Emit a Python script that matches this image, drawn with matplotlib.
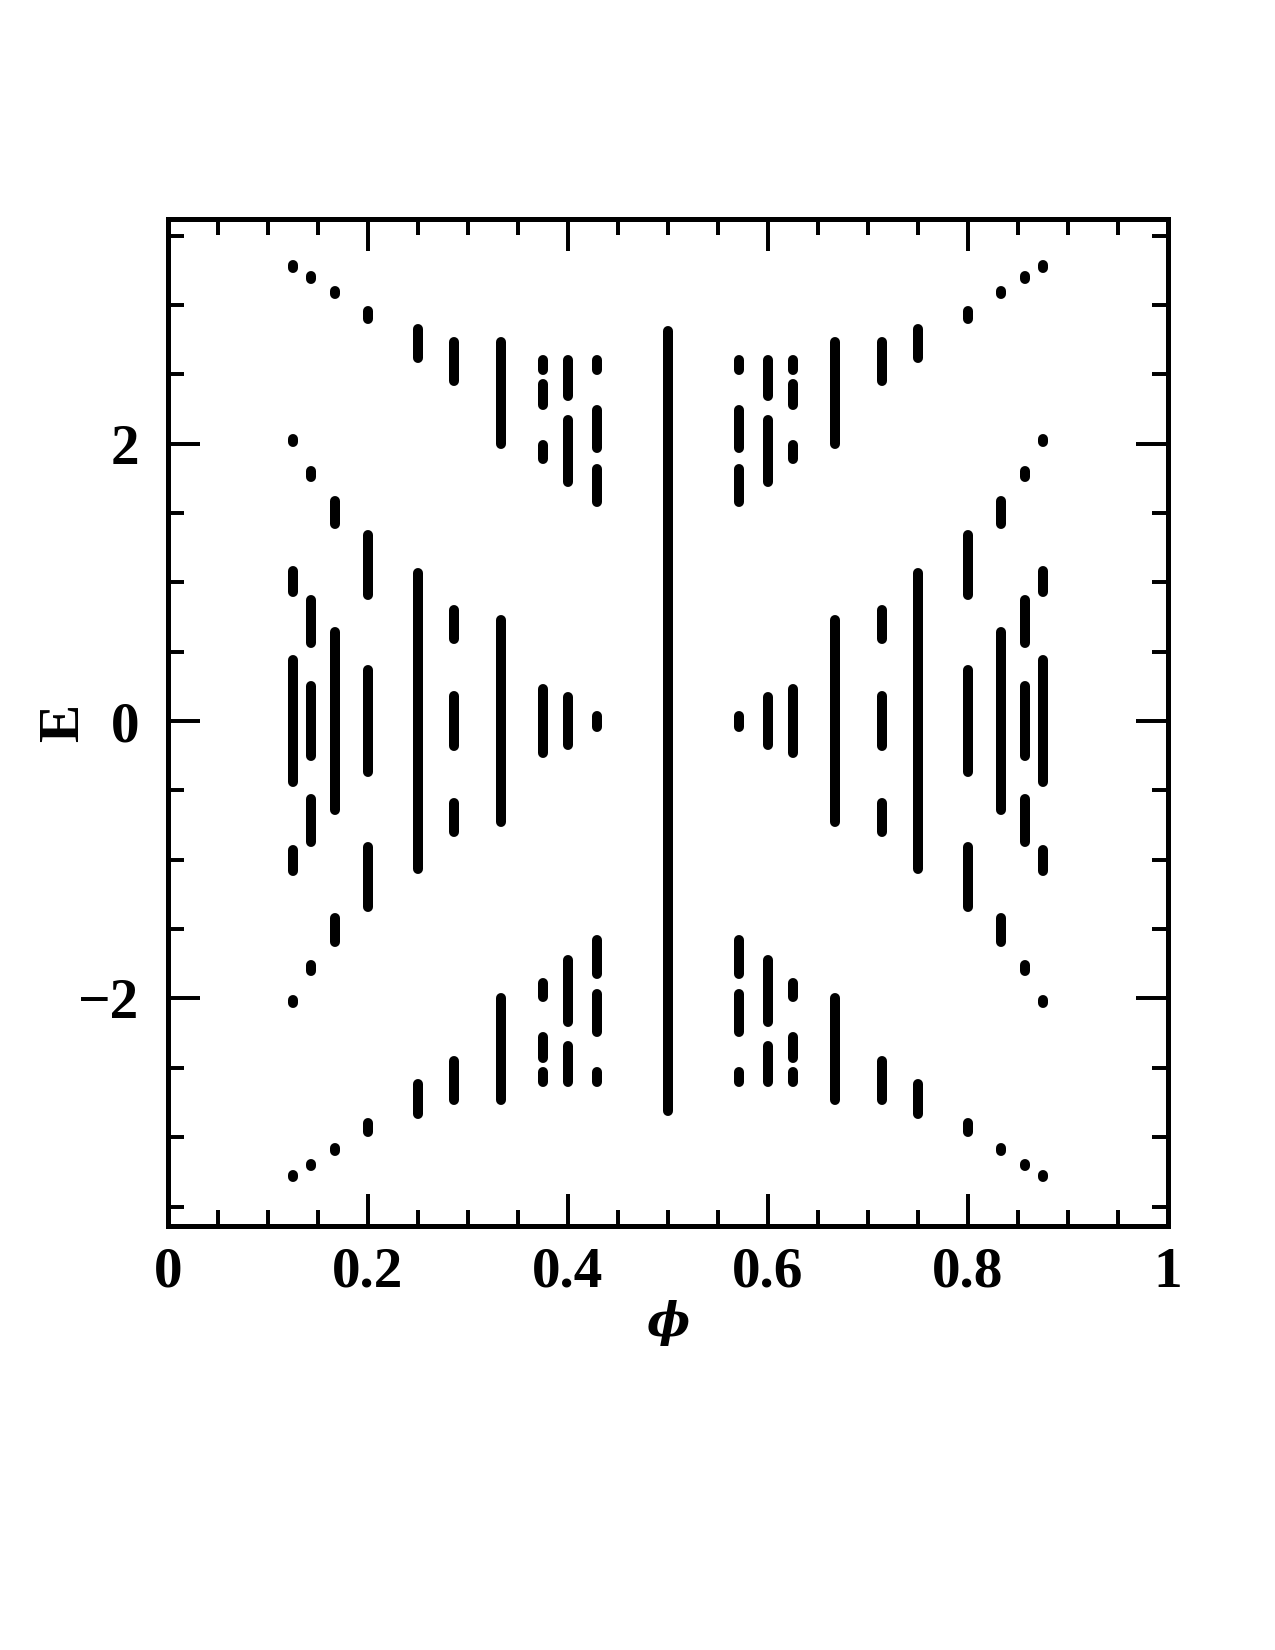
import matplotlib
matplotlib.use("Agg")
import matplotlib.pyplot as plt
from matplotlib.ticker import MultipleLocator

# flux values phi = p/q (q <= 8)
PHI = [0.125, 0.143, 0.167, 0.2, 0.25, 0.286, 0.333, 0.375, 0.4, 0.429, 0.5,
       0.571, 0.6, 0.625, 0.667, 0.714, 0.75, 0.8, 0.833, 0.857, 0.875]

# energy bands (lower, upper) at each phi
BANDS_0125 = [(-3.29, -3.27), (-2.03, -2.01), (-1.08, -0.93), (-0.44, 0.44),
              (0.93, 1.08), (2.01, 2.03), (3.27, 3.29)]
BANDS_0143 = [(-3.21, -3.19), (-1.80, -1.76), (-0.87, -0.56), (-0.25, 0.25),
              (0.56, 0.87), (1.76, 1.80), (3.19, 3.21)]
BANDS_0167 = [(-3.10, -3.08), (-1.59, -1.42), (-0.64, 0.64), (1.42, 1.59),
              (3.08, 3.10)]
BANDS_0200 = [(-2.96, -2.90), (-1.34, -0.91), (-0.37, 0.37), (0.91, 1.34),
              (2.90, 2.96)]
BANDS_0250 = [(-2.83, -2.62), (-1.07, 1.07), (2.62, 2.83)]
BANDS_0286 = [(-2.73, -2.45), (-0.80, -0.59), (-0.18, 0.18), (0.59, 0.80),
              (2.45, 2.73)]
BANDS_0333 = [(-2.73, -2.00), (-0.73, 0.73), (2.00, 2.73)]
BANDS_0375 = [(-2.60, -2.53), (-2.43, -2.28), (-1.99, -1.89), (-0.23, 0.23),
              (1.89, 1.99), (2.28, 2.43), (2.53, 2.60)]
BANDS_0400 = [(-2.60, -2.34), (-2.17, -1.72), (-0.17, 0.17), (1.72, 2.17),
              (2.34, 2.60)]
BANDS_0429 = [(-2.60, -2.53), (-2.24, -1.97), (-1.82, -1.58), (-0.04, 0.04),
              (1.58, 1.82), (1.97, 2.24), (2.53, 2.60)]
BANDS_0500 = [(-2.81, 2.81)]
BANDS_0571 = [(-2.60, -2.53), (-2.24, -1.97), (-1.82, -1.58), (-0.04, 0.04),
              (1.58, 1.82), (1.97, 2.24), (2.53, 2.60)]
BANDS_0600 = [(-2.60, -2.34), (-2.17, -1.72), (-0.17, 0.17), (1.72, 2.17),
              (2.34, 2.60)]
BANDS_0625 = [(-2.60, -2.53), (-2.43, -2.28), (-1.99, -1.89), (-0.23, 0.23),
              (1.89, 1.99), (2.28, 2.43), (2.53, 2.60)]
BANDS_0667 = [(-2.73, -2.00), (-0.73, 0.73), (2.00, 2.73)]
BANDS_0714 = [(-2.73, -2.45), (-0.80, -0.59), (-0.18, 0.18), (0.59, 0.80),
              (2.45, 2.73)]
BANDS_0750 = [(-2.83, -2.62), (-1.07, 1.07), (2.62, 2.83)]
BANDS_0800 = [(-2.96, -2.90), (-1.34, -0.91), (-0.37, 0.37), (0.91, 1.34),
              (2.90, 2.96)]
BANDS_0833 = [(-3.10, -3.08), (-1.59, -1.42), (-0.64, 0.64), (1.42, 1.59),
              (3.08, 3.10)]
BANDS_0857 = [(-3.21, -3.19), (-1.80, -1.76), (-0.87, -0.56), (-0.25, 0.25),
              (0.56, 0.87), (1.76, 1.80), (3.19, 3.21)]
BANDS_0875 = [(-3.29, -3.27), (-2.03, -2.01), (-1.08, -0.93), (-0.44, 0.44),
              (0.93, 1.08), (2.01, 2.03), (3.27, 3.29)]

BANDS = [BANDS_0125, BANDS_0143, BANDS_0167, BANDS_0200, BANDS_0250,
         BANDS_0286, BANDS_0333, BANDS_0375, BANDS_0400, BANDS_0429,
         BANDS_0500, BANDS_0571, BANDS_0600, BANDS_0625, BANDS_0667,
         BANDS_0714, BANDS_0750, BANDS_0800, BANDS_0833, BANDS_0857,
         BANDS_0875]

XTICKS = [0, 0.2, 0.4, 0.6, 0.8, 1]
XTICKLABELS = ["0", "0.2", "0.4", "0.6", "0.8", "1"]
YTICKS = [-2, 0, 2]
YTICKLABELS = ["\u22122", "0", "2"]

FONT = "Liberation Serif"

fig = plt.figure(figsize=(8.5, 11), dpi=150)
ax = fig.add_axes([0.1318, 0.2570, 0.7843, 0.6103])

for phi, bands in zip(PHI, BANDS):
    for lo, hi in bands:
        ax.plot([phi, phi], [lo, hi], color="black", lw=4.8,
                solid_capstyle="round")

ax.set_xlim(0, 1)
ax.set_ylim(-3.64, 3.62)

ax.set_xticks(XTICKS)
ax.set_xticklabels(XTICKLABELS)
ax.set_yticks(YTICKS)
ax.set_yticklabels(YTICKLABELS)
ax.xaxis.set_minor_locator(MultipleLocator(0.05))
ax.yaxis.set_minor_locator(MultipleLocator(0.5))

ax.tick_params(which="both", direction="in", top=True, right=True,
               width=1.9, color="black")
ax.tick_params(which="major", length=15.5)
ax.tick_params(which="minor", length=7.5)
ax.tick_params(axis="x", which="major", pad=10)
ax.tick_params(axis="y", which="major", pad=14)
for lab in ax.get_xticklabels() + ax.get_yticklabels():
    lab.set_fontfamily(FONT)
    lab.set_fontweight("bold")
    lab.set_fontsize(27.5)

for sp in ax.spines.values():
    sp.set_linewidth(2.4)

ax.set_xlabel("\u03d5", fontfamily="DejaVu Serif", fontweight="bold",
              style="italic", fontsize=22)
ax.xaxis.set_label_coords(0.5, -0.074)
ax.set_ylabel("E", fontfamily=FONT, fontweight="bold", fontsize=27.5)
ax.yaxis.set_label_coords(-0.078, 0.5)

fig.savefig("out.png", dpi=150)
